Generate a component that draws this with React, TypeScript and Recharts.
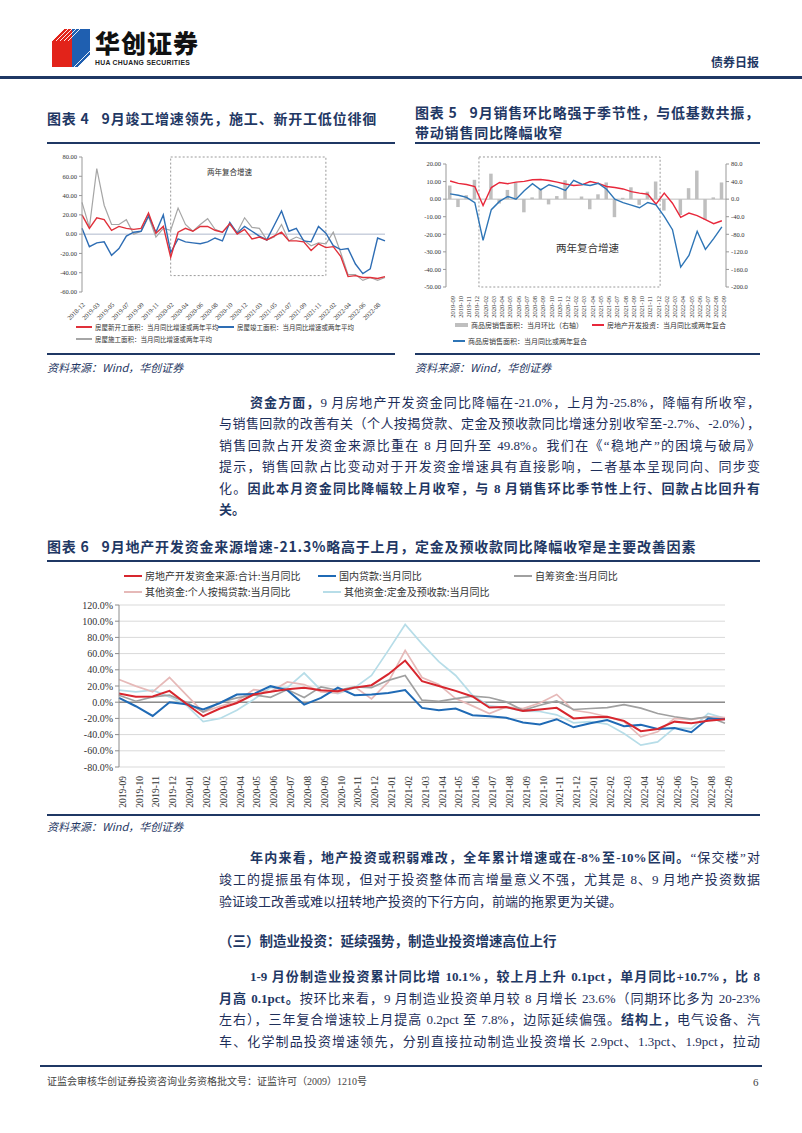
import { ComposedChart, Line, Bar, XAxis, YAxis, CartesianGrid, ReferenceLine, ReferenceArea } from 'recharts';

const NAVY = '#1f3864';
const TEXT = '#1e2f5a';
const SERIF = '"Liberation Serif", "Noto Sans CJK SC", serif';
const CJK = '"Noto Sans CJK SC", "Liberation Serif", sans-serif';

// 图表4：新开工 / 竣工 / 施工
const c4Months = [
  '2018-12',
  '2019-02', '2019-03', '2019-04', '2019-05', '2019-06', '2019-07', '2019-08', '2019-09', '2019-10', '2019-11', '2019-12',
  '2020-02', '2020-03', '2020-04', '2020-05', '2020-06', '2020-07', '2020-08', '2020-09', '2020-10', '2020-11', '2020-12',
  '2021-02', '2021-03', '2021-04', '2021-05', '2021-06', '2021-07', '2021-08', '2021-09', '2021-10', '2021-11', '2021-12',
  '2022-02', '2022-03', '2022-04', '2022-05', '2022-06', '2022-07', '2022-08', '2022-09',
];
const c4NewStart = [20, 6, 17, 15, 4, 8, 6, 5, 6, 22, 1, 8, -24, 2, 6, 3, 8, 8, 4, 2, 11, 0, 5, -5, -3, -6, -2, 2, -7, -7, -8, -17, -10, -14, -13, -23, -44, -43, -45, -45, -46, -44];
const c4Completed = [6, -13, -9, -8, -22, -15, -2, 2, 3, 19, 2, 20, -19, -5, -8, -9, -10, -8, -4, -7, 12, 1, 8, 3, -2, -6, 9, 24, 3, 6, -7, -8, 8, 1, -12, -16, -15, -31, -41, -36, -4, -7];
const c4UnderConstr = [33, 7, 68, 30, 10, 10, 15, 0, 3, 18, -3, 6, 4, 27, 10, 3, 10, 16, 5, 2, 10, 2, 17, 7, 6, -6, -3, 10, -7, -3, -6, -12, -9, -10, 2, -19, -42, -42, -48, -45, -48, -45];
const c4Ticks = [-60, -40, -20, 0, 20, 40, 60, 80];

// 图表5：销售环比（右轴）/ 投资 / 销售
const c5Months = [
  '2019-09', '2019-10', '2019-11', '2019-12',
  '2020-02', '2020-03', '2020-04', '2020-05', '2020-06', '2020-07', '2020-08', '2020-09', '2020-10', '2020-11', '2020-12',
  '2021-02', '2021-03', '2021-04', '2021-05', '2021-06', '2021-07', '2021-08', '2021-09', '2021-10', '2021-11', '2021-12',
  '2022-02', '2022-03', '2022-04', '2022-05', '2022-06', '2022-07', '2022-08', '2022-09',
];
const c5SalesMoM = [31, -18, 9, 44, null, 58, -10, 21, 38, -30, 4, 24, -12, 7, 43, null, 6, -23, 11, 38, -41, 3, 27, -13, 17, 40, -26, null, -36, 25, 65, -47, 4, 38];
const c5InvestYoY = [10.3, 9, 8.3, 7.2, -3.6, 6.6, 9.5, 8.8, 9.7, 10.1, 11, 11.2, 10.6, 9.7, 8.6, 7.8, 8.1, 10, 9, 7.2, 6.6, 5.8, 4.3, 3.4, 2.8, -2.8, 3.4, -2.3, -10.4, -7.9, -9.4, -11.7, -14, -12.3];
const c5SalesYoY = [3, 2.2, 1, -2, -23.5, -6, -1.3, 1.5, 0, 4.8, 8.8, 5.3, 8.2, 6.8, 5, 10.7, 8.5, 7.8, 9, 5.6, 0, -2, -3.4, -4.9, -1.9, -3.2, -9.8, -17.4, -38.7, -32, -18.3, -28.6, -22.5, -15.8];
const c5LeftTicks = [-50, -40, -30, -20, -10, 0, 10, 20];
const c5RightTicks = [-200, -160, -120, -80, -40, 0, 40, 80];

// 图表6：开发资金来源
const c6Months = [
  '2019-09', '2019-10', '2019-11', '2019-12',
  '2020-01', '2020-02', '2020-03', '2020-04', '2020-05', '2020-06', '2020-07', '2020-08', '2020-09', '2020-10', '2020-11', '2020-12',
  '2021-01', '2021-02', '2021-03', '2021-04', '2021-05', '2021-06', '2021-07', '2021-08', '2021-09', '2021-10', '2021-11', '2021-12',
  '2022-01', '2022-02', '2022-03', '2022-04', '2022-05', '2022-06', '2022-07', '2022-08', '2022-09',
];
const c6Total = [10.7, 6.6, 7, 14, -2, -17.3, -7.8, -1, 9.5, 12.8, 16, 17.7, 14.8, 13.6, 18, 21, 34.6, 51.4, 26, 20, 14, 7, -6.6, -6, -10.7, -9, -7, -20, -18.5, -18, -23, -35.8, -33, -24, -26, -23, -21];
const c6Loans = [5.3, -5, -17, 0, -2.5, -9, -1, 9.5, 10, 19.8, 14.8, -3, 5.3, 18, 8.6, 9.5, 11.5, 15, -7, -9.9, -7.8, -16, -17.3, -19.3, -25, -27.6, -21, -31, -26, -22, -29.6, -28, -33, -32, -37, -20, -21];
const c6SelfRaised = [8.6, 1.2, 6.6, 8.6, 0, -12, 0, 5.3, 9, 6, 15.6, 5.8, 19, 14.8, 19, 18, 27, 33, 2.5, 1, 4.5, 7.4, 5.8, 0.4, -10, -3.7, 1.6, -9, -7.8, -6.6, -2.9, -7.4, -14, -18, -21, -18, -26];
const c6Mortgage = [28, 19.8, 12.8, 30.5, 9, -12.3, -5, 1.2, 15.6, 12.8, 25, 21.8, 12.8, 11.5, 19, 4, 25, 64, 30.5, 21.8, 4.5, -4.5, -14, -5.8, -8, -1, 9.5, -10, -13, -18, -24, -42.8, -36.6, -20, -21.4, -18, -19];
const c6Deposits = [14.8, 12.8, 14.8, 6.6, -3.7, -24, -20, -10, 3.3, 18, 18, 36, 14.8, 10.7, 18, 33, 64, 96, 72, 50, 33, 8.6, -4.5, -6.6, -11, -11.5, -15.6, -25.5, -24, -27, -38.7, -53, -49, -31.7, -32.5, -14, -20];
const c6Ticks = [-80, -60, -40, -20, 0, 20, 40, 60, 80, 100, 120];

const c4Data = c4Months.map((m, i) => ({ m, newStart: c4NewStart[i], completed: c4Completed[i], under: c4UnderConstr[i] }));
const c5Data = c5Months.map((m, i) => ({ m, mom: c5SalesMoM[i], invest: c5InvestYoY[i], sales: c5SalesYoY[i] }));
const c6Data = c6Months.map((m, i) => ({
  m, total: c6Total[i], loans: c6Loans[i], self: c6SelfRaised[i], mortgage: c6Mortgage[i], deposits: c6Deposits[i],
}));

const abs = (left: number, top: number, extra: any = {}) => ({ position: 'absolute' as const, left, top, ...extra });

function Rule({ left, top, width, h = 1.5 }: any) {
  return <div style={abs(left, top, { width, height: h, background: NAVY })} />;
}

function Src({ left, top }: any) {
  return (
    <div style={abs(left, top, { fontSize: 11, fontStyle: 'italic', color: NAVY, fontFamily: CJK, lineHeight: '14px' })}>
      资料来源：Wind，华创证券
    </div>
  );
}

function Title({ left, top, children }: any) {
  return (
    <div style={abs(left, top, { fontSize: 14, fontWeight: 700, color: NAVY, fontFamily: CJK, letterSpacing: 0.8, lineHeight: '18px', whiteSpace: 'nowrap' })}>
      {children}
    </div>
  );
}

function LegendItem({ left, top, color, text, size, bar, lw = 1.5, lineW = 16 }: any) {
  return (
    <div style={abs(left, top, { display: 'flex', alignItems: 'center', whiteSpace: 'nowrap', fontSize: size, color: '#333', fontFamily: CJK, lineHeight: '12px' })}>
      {bar
        ? <span style={{ display: 'inline-block', width: lineW, height: 4, background: color, marginRight: 3 }} />
        : <span style={{ display: 'inline-block', width: lineW, height: lw, background: color, marginRight: 3 }} />}
      <span>{text}</span>
    </div>
  );
}

function TLine({ top, indent, last, children, size = 13 }: any) {
  const left = 219 + (indent ? 31 : 0);
  return (
    <div style={abs(left, top, {
      width: 760 - left, fontSize: size, lineHeight: '18px', color: TEXT, fontFamily: SERIF,
      textAlign: 'justify', textAlignLast: last ? 'left' : 'justify', whiteSpace: 'nowrap',
    })}>
      {children}
    </div>
  );
}

const B = ({ children }: any) => <b style={{ fontWeight: 700, color: NAVY }}>{children}</b>;

const smallTick = { fontSize: 6.5, fill: '#333', fontFamily: SERIF };

function Chart4() {
  return (
    <div style={abs(40, 150)}>
      <ComposedChart width={355} height={174} data={c4Data} margin={{ top: 7, right: 10, left: 0, bottom: 0 }}>
        <XAxis dataKey="m" interval={1} angle={-45} textAnchor="end" height={32} axisLine={false} tickLine={false}
          tick={{ ...smallTick, verticalAnchor: 'middle' } as any} tickMargin={4} />
        <YAxis domain={[-60, 80]} ticks={c4Ticks} tickFormatter={(v: number) => v.toFixed(2)} width={42}
          axisLine={{ stroke: '#999' }} tickLine={{ stroke: '#999' }} tickSize={3} tick={smallTick} interval={0} />
        <ReferenceLine y={0} stroke="#aeb8cc" strokeWidth={1} />
        <ReferenceArea x1="2020-02" x2="2021-12" y1={-43} y2={80} fill="none" stroke="#9a9a9a" strokeDasharray="2 2" strokeWidth={1} ifOverflow="visible" />
        <Line dataKey="under" stroke="#a6a6a6" strokeWidth={1.2} dot={false} isAnimationActive={false} />
        <Line dataKey="completed" stroke="#2e6db4" strokeWidth={1.4} dot={false} isAnimationActive={false} />
        <Line dataKey="newStart" stroke="#e0303a" strokeWidth={1.4} dot={false} isAnimationActive={false} />
      </ComposedChart>
    </div>
  );
}

function Chart5() {
  return (
    <div style={abs(400, 150)}>
      <ComposedChart width={370} height={176} data={c5Data} margin={{ top: 14, right: 0, left: 0, bottom: 0 }}>
        <XAxis dataKey="m" interval={0} angle={-90} textAnchor="end" height={39} axisLine={false} tickLine={false}
          tick={{ ...smallTick, verticalAnchor: 'middle' } as any} tickMargin={3} />
        <YAxis yAxisId="left" domain={[-50, 20]} ticks={c5LeftTicks} tickFormatter={(v: number) => v.toFixed(2)} width={46}
          axisLine={{ stroke: '#999' }} tickLine={{ stroke: '#999' }} tickSize={3} tick={smallTick} interval={0} />
        <YAxis yAxisId="right" orientation="right" domain={[-200, 80]} ticks={c5RightTicks} tickFormatter={(v: number) => v.toFixed(1)} width={44}
          axisLine={{ stroke: '#999' }} tickLine={{ stroke: '#999' }} tickSize={3} tick={smallTick} interval={0} />
        <ReferenceLine yAxisId="left" y={0} stroke="#bdbdbd" strokeWidth={1} />
        <Bar yAxisId="right" dataKey="mom" fill="#bfbfbf" barSize={3.5} isAnimationActive={false} />
        <ReferenceArea yAxisId="left" x1="2020-02" x2="2021-12" y1={-50} y2={24} fill="none" stroke="#9a9a9a" strokeDasharray="2 2" strokeWidth={1} ifOverflow="visible" />
        <Line yAxisId="left" dataKey="invest" stroke="#e8283b" strokeWidth={1.4} dot={false} isAnimationActive={false} />
        <Line yAxisId="left" dataKey="sales" stroke="#2e75b6" strokeWidth={1.4} dot={false} isAnimationActive={false} />
      </ComposedChart>
    </div>
  );
}

function Chart6() {
  const tick = { fontSize: 10, fill: '#333', fontFamily: SERIF };
  return (
    <div style={abs(60, 597)}>
      <ComposedChart width={680} height={215} data={c6Data} margin={{ top: 8, right: 15, left: 0, bottom: 0 }}>
        <CartesianGrid vertical={false} stroke="#d9d9d9" />
        <XAxis dataKey="m" interval={0} angle={-90} textAnchor="end" height={45} axisLine={false} tickLine={false}
          tick={{ ...tick, fontSize: 9.5, verticalAnchor: 'middle' } as any} tickMargin={3} />
        <YAxis domain={[-80, 120]} ticks={c6Ticks} tickFormatter={(v: number) => `${v.toFixed(1)}%`} width={59}
          axisLine={{ stroke: '#8c8c8c' }} tickLine={{ stroke: '#8c8c8c' }} tickSize={4} tick={tick} interval={0} />
        <ReferenceLine y={0} stroke="#8c8c8c" strokeWidth={1.5} />
        <Line dataKey="deposits" stroke="#b7dde8" strokeWidth={1.7} dot={false} isAnimationActive={false} />
        <Line dataKey="mortgage" stroke="#e6b9b8" strokeWidth={1.7} dot={false} isAnimationActive={false} />
        <Line dataKey="self" stroke="#a0a0a0" strokeWidth={1.7} dot={false} isAnimationActive={false} />
        <Line dataKey="loans" stroke="#1f6ab5" strokeWidth={2} dot={false} isAnimationActive={false} />
        <Line dataKey="total" stroke="#d7262e" strokeWidth={2} dot={false} isAnimationActive={false} />
      </ComposedChart>
    </div>
  );
}

function Logo() {
  return (
    <svg style={abs(52, 29)} width={38} height={38} viewBox="0 0 38 38">
      <polygon points="0,12 12,0 20,0 20,38 0,38" fill="#e2231a" />
      <polygon points="20,0 38,0 38,26 26,38 20,38" fill="#1f5fb0" />
      {[0, 1, 2, 3, 4].map((k) => (
        <line key={'r' + k} x1={0 + k * 4} y1={12} x2={12 + k * 4} y2={0} stroke="#fff" strokeWidth={1} opacity={0.9} />
      ))}
      {[0, 1, 2, 3, 4].map((k) => (
        <line key={'b' + k} x1={22 + k * 4} y1={38} x2={38} y2={22 + k * 4} stroke="#fff" strokeWidth={1} opacity={0.9} />
      ))}
    </svg>
  );
}

export default function App() {
  return (
    <div style={{ position: 'absolute', left: 0, top: 0, width: 802, height: 1133, background: '#fff', overflow: 'hidden', fontFamily: SERIF }}>
      {/* 页眉 */}
      <Logo />
      <div style={abs(95, 29, { fontSize: 25, fontWeight: 900, color: '#111', fontFamily: CJK, lineHeight: '27px', letterSpacing: 1 })}>华创证券</div>
      <div style={abs(95, 59, { fontSize: 6.8, fontWeight: 700, color: '#222', fontFamily: '"Liberation Sans", sans-serif', letterSpacing: 0.3, lineHeight: '8px', whiteSpace: 'nowrap' })}>HUA CHUANG SECURITIES</div>
      <div style={abs(711, 54, { fontSize: 12, fontWeight: 700, color: NAVY, fontFamily: CJK, lineHeight: '16px' })}>债券日报</div>
      <div style={abs(0, 76, { width: 802, height: 3, background: NAVY })} />

      {/* 图表4 */}
      <Title left={47} top={109}>图表 4&nbsp;&nbsp; 9月竣工增速领先，施工、新开工低位徘徊</Title>
      <Rule left={47} top={142} width={348} />
      <Chart4 />
      <div style={abs(207, 166, { fontSize: 7.5, color: '#333', fontFamily: CJK, lineHeight: '12px' })}>两年复合增速</div>
      <LegendItem left={76} top={321} color="#e0303a" size={6.5} text="房屋新开工面积：当月同比增速或两年平均" />
      <LegendItem left={218} top={321} color="#2e6db4" size={6.5} text="房屋竣工面积：当月同比增速或两年平均" />
      <LegendItem left={76} top={333} color="#a6a6a6" size={6.5} text="房屋施工面积：当月同比增速或两年平均" />
      <Rule left={47} top={353} width={348} />
      <Src left={47} top={360} />

      {/* 图表5 */}
      <Title left={415} top={103}>图表 5&nbsp;&nbsp; 9月销售环比略强于季节性，与低基数共振，</Title>
      <Title left={415} top={123}>带动销售同比降幅收窄</Title>
      <Rule left={415} top={142} width={345} />
      <Chart5 />
      <div style={abs(556, 240, { fontSize: 10.5, color: '#333', fontFamily: CJK, lineHeight: '16px' })}>两年复合增速</div>
      <LegendItem left={455} top={319} color="#bfbfbf" size={7} bar lineW={13} text="商品房销售面积：当月环比（右轴）" />
      <LegendItem left={592} top={319} color="#e8283b" size={7} lineW={12} text="房地产开发投资：当月同比或两年复合" />
      <LegendItem left={453} top={335} color="#2e75b6" size={7} lineW={12} text="商品房销售面积：当月同比或两年复合" />
      <Rule left={415} top={353} width={345} />
      <Src left={415} top={360} />

      {/* 正文一 */}
      <TLine top={394} indent><B>资金方面，</B>9 月房地产开发资金同比降幅在-21.0%，上月为-25.8%，降幅有所收窄，</TLine>
      <TLine top={415}>与销售回款的改善有关（个人按揭贷款、定金及预收款同比增速分别收窄至-2.7%、-2.0%），</TLine>
      <TLine top={437}>销售回款占开发资金来源比重在 8 月回升至 49.8%。我们在《“稳地产”的困境与破局》</TLine>
      <TLine top={458}>提示，销售回款占比变动对于开发资金增速具有直接影响，二者基本呈现同向、同步变</TLine>
      <TLine top={480}>化。<B>因此本月资金同比降幅较上月收窄，与 8 月销售环比季节性上行、回款占比回升有</B></TLine>
      <TLine top={501} last><B>关。</B></TLine>

      {/* 图表6 */}
      <Title left={47} top={537}>图表 6&nbsp;&nbsp; 9月地产开发资金来源增速-21.3%略高于上月，定金及预收款同比降幅收窄是主要改善因素</Title>
      <Rule left={47} top={560} width={713} />
      <LegendItem left={124} top={570} color="#d7262e" size={10} lw={2.5} lineW={18} text="房地产开发资金来源:合计:当月同比" />
      <LegendItem left={318} top={570} color="#1f6ab5" size={10} lw={2.5} lineW={18} text="国内贷款:当月同比" />
      <LegendItem left={514} top={570} color="#a0a0a0" size={10} lw={1.8} lineW={18} text="自筹资金:当月同比" />
      <LegendItem left={124} top={586} color="#e6b9b8" size={10} lw={1.8} lineW={18} text="其他资金:个人按揭贷款:当月同比" />
      <LegendItem left={323} top={586} color="#b7dde8" size={10} lw={1.8} lineW={18} text="其他资金:定金及预收款:当月同比" />
      <Chart6 />
      <Rule left={47} top={814} width={713} />
      <Src left={47} top={819} />

      {/* 正文二 */}
      <TLine top={849} indent><B>年内来看，地产投资或积弱难改，全年累计增速或在-8%至-10%区间。</B>“保交楼”对</TLine>
      <TLine top={871}>竣工的提振虽有体现，但对于投资整体而言增量意义不强，尤其是 8、9 月地产投资数据</TLine>
      <TLine top={893} last>验证竣工改善或难以扭转地产投资的下行方向，前端的拖累更为关键。</TLine>

      <div style={abs(219, 933, { fontSize: 13.5, fontWeight: 700, color: NAVY, fontFamily: SERIF, lineHeight: '18px' })}>（三）制造业投资：延续强势，制造业投资增速高位上行</div>

      <TLine top={968} indent><B>1-9 月份制造业投资累计同比增 10.1%，较上月上升 0.1pct，单月同比+10.7%，比 8</B></TLine>
      <TLine top={990}><B>月高 0.1pct。</B>按环比来看，9 月制造业投资单月较 8 月增长 23.6%（同期环比多为 20-23%</TLine>
      <TLine top={1011}>左右），三年复合增速较上月提高 0.2pct 至 7.8%，边际延续偏强。<B>结构上，</B>电气设备、汽</TLine>
      <TLine top={1033}>车、化学制品投资增速领先，分别直接拉动制造业投资增长 2.9pct、1.3pct、1.9pct，拉动</TLine>

      {/* 页脚 */}
      <div style={abs(40, 1065, { width: 722, height: 2, background: NAVY })} />
      <div style={abs(47, 1075, { fontSize: 10, color: '#444', fontFamily: SERIF, lineHeight: '14px' })}>证监会审核华创证券投资咨询业务资格批文号：证监许可（2009）1210号</div>
      <div style={abs(753, 1075, { fontSize: 11, color: '#444', fontFamily: SERIF, lineHeight: '14px' })}>6</div>
    </div>
  );
}
